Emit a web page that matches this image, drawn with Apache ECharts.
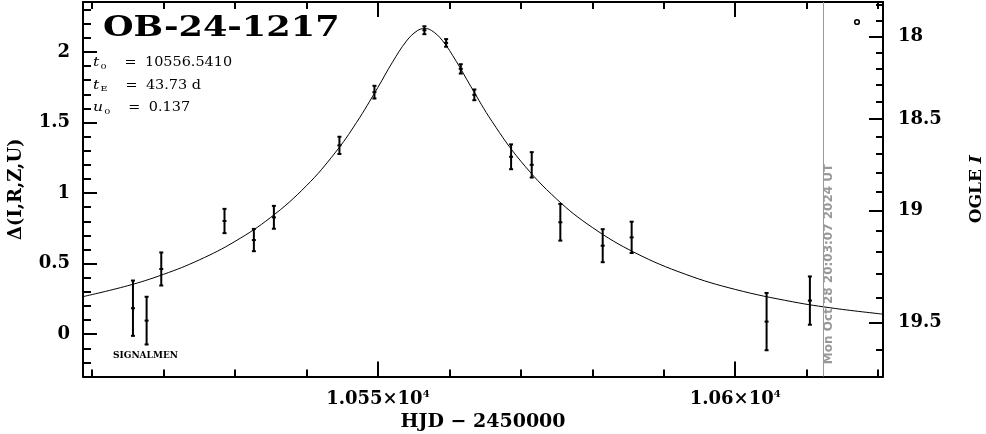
<!DOCTYPE html>
<html>
<head>
<meta charset="utf-8">
<script src="https://cdn.jsdelivr.net/npm/echarts@6/dist/echarts.min.js"></script>
<style>html,body{margin:0;padding:0;background:#fff}#c{width:986px;height:434px}</style>
</head>
<body>
<div id="c"></div>
<script>
// ---- data ----
const hjd   = [10515.73, 10517.64, 10519.69, 10528.54, 10532.65, 10535.45, 10544.62, 10549.52, 10556.51, 10559.55, 10561.60, 10563.50, 10568.64, 10571.53, 10575.53, 10581.46, 10585.51, 10604.39, 10610.45];
const delta = [0.184, 0.096, 0.462, 0.802, 0.667, 0.828, 1.338, 1.715, 2.154, 2.064, 1.880, 1.696, 1.257, 1.200, 0.793, 0.627, 0.686, 0.089, 0.238];
const err   = [0.196, 0.169, 0.117, 0.086, 0.079, 0.081, 0.061, 0.045, 0.028, 0.027, 0.033, 0.038, 0.088, 0.090, 0.130, 0.117, 0.111, 0.203, 0.171];

// model light curve, sampled values
const modelHjd   = [10508.7, 10515, 10520, 10525, 10530, 10535, 10540, 10544, 10547, 10550, 10552, 10554, 10555.5, 10556.541, 10557.5, 10559, 10561, 10563, 10566, 10570, 10575, 10580, 10586, 10593, 10600, 10608, 10614, 10620.7];
const modelDelta = [0.2656, 0.3434, 0.4238, 0.5260, 0.6572, 0.8273, 1.0516, 1.2845, 1.4990, 1.7487, 1.9237, 2.0774, 2.1499, 2.1658, 2.1523, 2.0826, 1.9307, 1.7559, 1.5054, 1.2260, 0.9580, 0.7566, 0.5766, 0.4252, 0.3172, 0.2299, 0.1822, 0.1418];

// tick labels
const xMajorTicks = [10550, 10600];
const yMajorTicks = [0, 0.5, 1, 1.5, 2];
const magMajorTicks = [18, 18.5, 19, 19.5];
const magMinorTicks = [17.8, 17.9, 18.0, 18.1, 18.2, 18.3, 18.4, 18.5, 18.6, 18.7, 18.8, 18.9, 19.0, 19.1, 19.2, 19.3, 19.4, 19.5, 19.6];

const titleText = 'OB-24-1217';
const params = [['t', '0', '10556.5410'], ['t', 'E', '43.73 d'], ['u', '0', '0.137']];
const stampText = 'Mon Oct 28 20:03:07 2024 UT';
const stampHjd = 10612.3;

// ---- axis calibration ----
const X_MIN = 10508.74, X_MAX = 10620.68;
const Y_MIN = -0.3, Y_MAX = 2.354;
const I_BASE = 19.5438, F_S = 0.525;
function magPos(m) { return 2.5 * Math.log10(1 + (Math.pow(10, -0.4 * (m - I_BASE)) - 1) / F_S); }
function range(a, b, s) { const r = []; for (let i = 0; a + i * s <= b + 1e-9; i++) r.push(+(a + i * s).toFixed(4)); return r; }

const FONT = 'DejaVu Serif';
const xMinorTicks = range(10510, 10620, 10);
const yMinorTicks = range(-0.2, 2.3, 0.1);
const magMajorPos = magMajorTicks.map(magPos);
const magMinorPos = magMinorTicks.map(magPos);

function baseX(extra) {
  return Object.assign({ type: 'value', min: X_MIN, max: X_MAX, gridIndex: 0, splitLine: { show: false } }, extra);
}
function baseY(extra) {
  return Object.assign({ type: 'value', min: Y_MIN, max: Y_MAX, gridIndex: 0, splitLine: { show: false } }, extra);
}

const chart = echarts.init(document.getElementById('c'), null, { renderer: 'canvas' });

const option = {
  animation: false,
  backgroundColor: '#fff',
  grid: { left: 83, right: 103, top: 2, bottom: 57.5, containLabel: false, outerBoundsMode: 'none' },
  xAxis: [
    baseX({
      position: 'bottom',
      axisLine: { show: true, onZero: false, lineStyle: { color: '#000', width: 2 } },
      axisTick: { show: true, inside: true, length: 15, customValues: xMajorTicks, lineStyle: { color: '#000', width: 2 } },
      axisLabel: {
        show: true, margin: 13, customValues: xMajorTicks,
        formatter: v => '{a|' + (v / 1e4) + '×10}{s|4}',
        rich: {
          a: { fontFamily: FONT, fontSize: 18, fontWeight: 'bold', color: '#000' },
          s: { fontFamily: FONT, fontSize: 10, fontWeight: 'bold', color: '#000', padding: [0, 0, 9, 0] }
        }
      },
      name: 'HJD − 2450000', nameLocation: 'middle', nameGap: 35,
      nameTextStyle: { fontFamily: FONT, fontSize: 19, fontWeight: 'bold', color: '#000' }
    }),
    baseX({
      position: 'bottom',
      axisLine: { show: false, onZero: false },
      axisTick: { show: true, inside: true, length: 7, customValues: xMinorTicks, lineStyle: { color: '#000', width: 2 } },
      axisLabel: { show: false }
    }),
    baseX({
      position: 'top',
      axisLine: { show: true, onZero: false, lineStyle: { color: '#000', width: 2 } },
      axisTick: { show: true, inside: true, length: 15, customValues: xMajorTicks, lineStyle: { color: '#000', width: 2 } },
      axisLabel: { show: false }
    }),
    baseX({
      position: 'top',
      axisLine: { show: false, onZero: false },
      axisTick: { show: true, inside: true, length: 7, customValues: xMinorTicks, lineStyle: { color: '#000', width: 2 } },
      axisLabel: { show: false }
    })
  ],
  yAxis: [
    baseY({
      position: 'left',
      axisLine: { show: true, onZero: false, lineStyle: { color: '#000', width: 2 } },
      axisTick: { show: true, inside: true, length: 14, customValues: yMajorTicks, lineStyle: { color: '#000', width: 2 } },
      axisLabel: { show: true, margin: 13, customValues: yMajorTicks, fontFamily: FONT, fontSize: 18, fontWeight: 'bold', color: '#000' },
      name: 'Δ(I,R,Z,U)', nameLocation: 'middle', nameGap: 58, nameRotate: 90,
      nameTextStyle: { fontFamily: FONT, fontSize: 18, fontWeight: 'bold', color: '#000' }
    }),
    baseY({
      position: 'left',
      axisLine: { show: false, onZero: false },
      axisTick: { show: true, inside: true, length: 8, customValues: yMinorTicks, lineStyle: { color: '#000', width: 2 } },
      axisLabel: { show: false }
    }),
    baseY({
      position: 'right',
      axisLine: { show: true, onZero: false, lineStyle: { color: '#000', width: 2 } },
      axisTick: { show: true, inside: true, length: 14, customValues: magMajorPos, lineStyle: { color: '#000', width: 2 } },
      axisLabel: {
        show: true, margin: 15, customValues: magMajorPos,
        formatter: v => { const i = magMajorPos.findIndex(p => Math.abs(p - v) < 1e-6); return i >= 0 ? String(magMajorTicks[i]) : ''; },
        fontFamily: FONT, fontSize: 18, fontWeight: 'bold', color: '#000'
      },
      name: 'OGLE {i|I}', nameLocation: 'middle', nameGap: 85, nameRotate: 90,
      nameTextStyle: {
        fontFamily: FONT, fontSize: 17, fontWeight: 'bold', color: '#000',
        rich: { i: { fontFamily: FONT, fontSize: 17, fontWeight: 'bold', fontStyle: 'italic', color: '#000' } }
      }
    }),
    baseY({
      position: 'right',
      axisLine: { show: false, onZero: false },
      axisTick: { show: true, inside: true, length: 7, customValues: magMinorPos, lineStyle: { color: '#000', width: 2 } },
      axisLabel: { show: false }
    })
  ],
  series: [
    {
      type: 'line', xAxisIndex: 0, yAxisIndex: 0,
      data: modelHjd.map((t, i) => [t, modelDelta[i]]),
      smooth: 0.4, showSymbol: false, symbol: 'none',
      lineStyle: { color: '#000', width: 1 }, z: 2, silent: true,
      markLine: {
        silent: true, symbol: 'none', animation: false,
        label: { show: false },
        lineStyle: { color: '#9a9a9a', width: 1, type: 'solid' },
        data: [{ xAxis: stampHjd }]
      }
    },
    {
      type: 'custom', xAxisIndex: 0, yAxisIndex: 0, z: 3, silent: true,
      data: hjd.map((t, i) => [t, delta[i], err[i]]),
      renderItem: function (params, api) {
        const x = api.value(0), y = api.value(1), e = api.value(2);
        const c = api.coord([x, y]);
        const top = api.coord([x, y + e]);
        const bot = api.coord([x, y - e]);
        const st = { stroke: '#000', lineWidth: 2 };
        return {
          type: 'group',
          children: [
            { type: 'line', shape: { x1: c[0], y1: top[1], x2: c[0], y2: bot[1] }, style: st },
            { type: 'line', shape: { x1: c[0] - 2, y1: top[1], x2: c[0] + 2, y2: top[1] }, style: st },
            { type: 'line', shape: { x1: c[0] - 2, y1: bot[1], x2: c[0] + 2, y2: bot[1] }, style: st },
            { type: 'rect', shape: { x: c[0] - 2, y: c[1] - 1, width: 4, height: 2 }, style: { fill: '#000' } }
          ]
        };
      }
    }
  ],
  graphic: [
    {
      type: 'text', x: 103, y: 29, scaleX: 1.3, z: 10,
      style: { text: titleText, font: 'bold 27px "DejaVu Serif"', fill: '#000', verticalAlign: 'middle', align: 'left' }
    },
    ...params.map((p, i) => ({
      type: 'text', x: 93, y: 63 + i * 22.5, scaleX: 1.2, z: 10,
      style: {
        text: '{v|' + p[0] + '}{s|' + p[1] + '}{e|=}{n|' + p[2] + '}',
        verticalAlign: 'middle', align: 'left',
        rich: {
          v: { fontFamily: FONT, fontSize: 13, fontStyle: 'italic', fill: '#000' },
          s: { fontFamily: FONT, fontSize: 8, fill: '#000', padding: [7, 0, 0, 1] },
          e: { fontFamily: FONT, fontSize: 12, fill: '#000', padding: [0, 7, 0, 15] },
          n: { fontFamily: FONT, fontSize: 12, fill: '#000' }
        }
      }
    })),
    {
      type: 'text', x: 113, y: 356, z: 10,
      style: { text: 'SIGNALMEN', font: 'bold 9px "DejaVu Serif"', fill: '#000', verticalAlign: 'middle', align: 'left' }
    },
    {
      type: 'text', x: 829, y: 264, rotation: Math.PI / 2, z: 10,
      style: { text: stampText, font: 'bold 12px "DejaVu Sans"', fill: '#999', verticalAlign: 'middle', align: 'center' }
    },
    {
      type: 'circle', shape: { cx: 857, cy: 22, r: 2.3 }, z: 10,
      style: { fill: 'none', stroke: '#000', lineWidth: 1.6 }
    }
  ]
};
chart.setOption(option);
</script>
</body>
</html>
